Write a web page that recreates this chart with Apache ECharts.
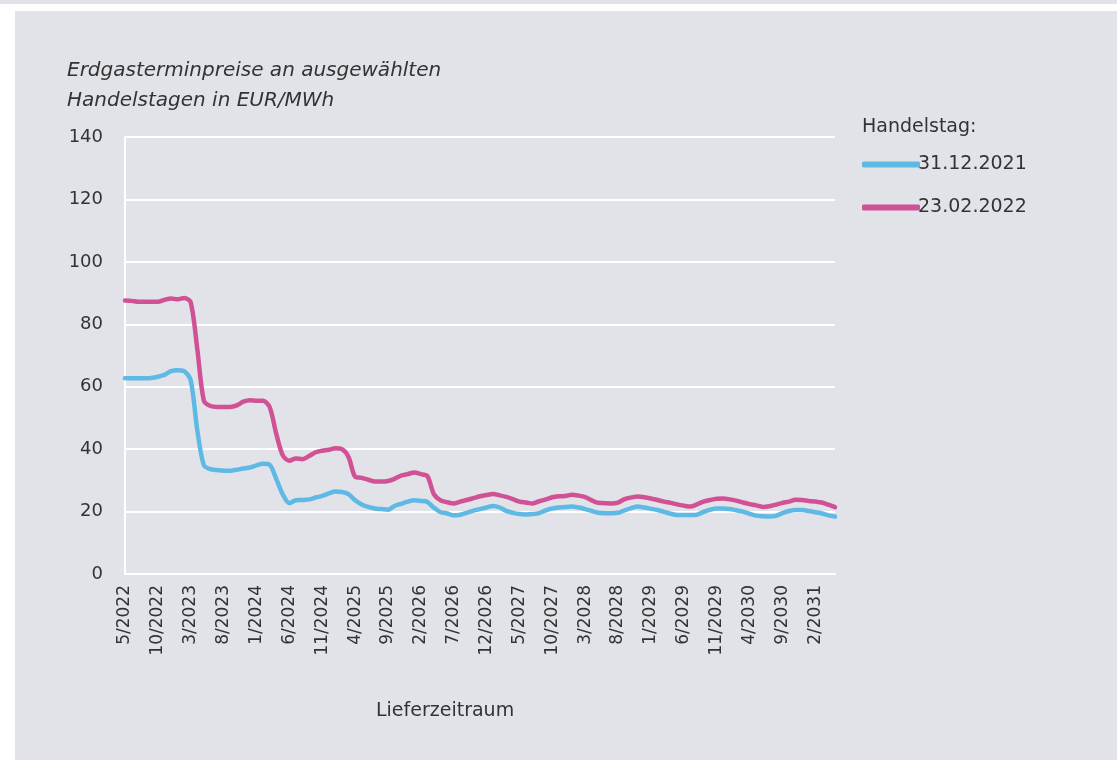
<!DOCTYPE html>
<html>
<head>
<meta charset="utf-8">
<script src="https://cdn.jsdelivr.net/npm/echarts@6/dist/echarts.min.js"></script>
<style>
  html, body { margin: 0; padding: 0; background: #ffffff; }
  #chart { width: 1117px; height: 760px; }
</style>
</head>
<body>
<div id="chart"></div>
<script>
// Liefermonate ab 5/2022, monatlich
const startYear = 2022
const startMonth = 5
const monthCount = 109

// Handelstag 31.12.2021
const price31122021 = [
  62.7, 62.7, 62.7, 62.7, 62.8, 63.2, 63.8, 65.0, 65.3, 65.0,
  62.0, 46.0, 34.8, 33.6, 33.3, 33.1, 33.1, 33.4, 33.8, 34.1,
  34.8, 35.3, 35.0, 30.5, 25.5, 22.7, 23.6, 23.7, 23.9, 24.5,
  25.0, 25.8, 26.4, 26.3, 25.6, 23.6, 22.3, 21.5, 21.0, 20.8,
  20.6, 21.8, 22.5, 23.2, 23.6, 23.4, 23.1, 21.2, 19.8, 19.4,
  18.8, 19.0, 19.6, 20.3, 20.8, 21.3, 21.8, 21.3, 20.2, 19.6,
  19.2, 19.1, 19.2, 19.5, 20.4, 21.0, 21.3, 21.5, 21.6, 21.3,
  20.8, 20.2, 19.6, 19.5, 19.5, 19.6, 20.4, 21.1, 21.6, 21.3,
  20.9, 20.5, 19.9, 19.3, 18.9, 18.9, 18.9, 19.0, 19.9, 20.6,
  21.0, 21.0, 20.8, 20.4, 20.0, 19.3, 18.7, 18.5, 18.4, 18.6,
  19.5, 20.2, 20.5, 20.5, 20.2, 19.8, 19.4, 18.8, 18.4
]

// Handelstag 23.02.2022
const price23022022 = [
  87.6, 87.5, 87.2, 87.2, 87.2, 87.2, 87.8, 88.3, 88.0, 88.4,
  87.0, 72.0, 55.5, 53.8, 53.5, 53.5, 53.5, 54.0, 55.2, 55.7,
  55.5, 55.5, 53.5, 45.0, 38.0, 36.3, 37.0, 36.8, 37.8, 39.0,
  39.5, 39.8, 40.3, 40.0, 37.5, 31.2, 30.8, 30.2, 29.6, 29.6,
  29.8, 30.5, 31.5, 32.0, 32.5, 32.0, 31.3, 25.5, 23.6, 23.0,
  22.6, 23.2, 23.7, 24.3, 24.9, 25.3, 25.6, 25.2, 24.7, 24.0,
  23.2, 22.9, 22.6, 23.3, 23.9, 24.6, 24.9, 25.0, 25.4, 25.1,
  24.6, 23.6, 22.8, 22.7, 22.6, 22.9, 24.0, 24.5, 24.8, 24.6,
  24.2, 23.7, 23.2, 22.8, 22.3, 21.9, 21.6, 22.3, 23.2, 23.7,
  24.1, 24.2, 23.9, 23.5, 22.9, 22.4, 22.0, 21.5, 21.7, 22.2,
  22.8, 23.2, 23.8, 23.7, 23.4, 23.2, 22.9, 22.2, 21.4
]

const seriesNames = ['31.12.2021', '23.02.2022']

// Kategorien m/yyyy
const months = []
for (let i = 0; i < monthCount; i++) {
  const m = (startMonth - 1 + i) % 12 + 1
  const y = startYear + Math.floor((startMonth - 1 + i) / 12)
  months.push(m + '/' + y)
}

const panelColor = '#e2e3e8'
const textColor = '#333333'
const fontFamily = '"DejaVu Sans", "Noto Sans", sans-serif'

const chart = echarts.init(document.getElementById('chart'))

const option = {
  animation: false,
  backgroundColor: '#ffffff',
  textStyle: { fontFamily: fontFamily },
  graphic: [
    { type: 'rect', z: -10, shape: { x: 0, y: 0, width: 1117, height: 4 }, style: { fill: panelColor } },
    { type: 'rect', z: -10, shape: { x: 15, y: 11, width: 1102, height: 749 }, style: { fill: panelColor } },
    {
      type: 'text', left: 862, top: 118,
      style: { text: 'Handelstag:', fontSize: 19, fill: textColor, fontFamily: fontFamily }
    },
    {
      type: 'text', left: 376, top: 702,
      style: { text: 'Lieferzeitraum', fontSize: 19, fill: textColor, fontFamily: fontFamily }
    }
  ],
  title: {
    text: 'Erdgasterminpreise an ausgewählten\nHandelstagen in EUR/MWh',
    left: 62,
    top: 51,
    textStyle: {
      fontSize: 20,
      fontStyle: 'italic',
      fontWeight: 'normal',
      color: textColor,
      lineHeight: 30,
      fontFamily: fontFamily
    }
  },
  legend: {
    orient: 'vertical',
    left: 857,
    top: 150,
    itemWidth: 58,
    itemHeight: 6,
    itemGap: 24,
    icon: 'roundRect',
    textStyle: { fontSize: 19, color: textColor, padding: [0, 0, 0, -7] },
    data: seriesNames
  },
  grid: {
    left: 125,
    right: 282,
    top: 137,
    bottom: 186
  },
  xAxis: {
    type: 'category',
    boundaryGap: false,
    data: months,
    axisLine: { show: true, lineStyle: { color: '#ffffff', width: 2 } },
    axisTick: { show: false },
    axisLabel: {
      interval: 4,
      rotate: 90,
      fontSize: 17,
      color: textColor,
      margin: 11
    },
    splitLine: { show: false }
  },
  yAxis: {
    type: 'value',
    min: 0,
    max: 140,
    interval: 20,
    axisLine: { show: true, lineStyle: { color: '#ffffff', width: 2 } },
    axisTick: { show: false },
    axisLabel: { fontSize: 18, color: textColor, margin: 22 },
    splitLine: { lineStyle: { color: '#ffffff', width: 2 } }
  },
  series: [
    {
      name: seriesNames[0],
      type: 'line',
      data: price31122021,
      smooth: 0.3,
      showSymbol: false,
      lineStyle: { color: '#5fb9e5', width: 4.5, cap: 'round', join: 'round' },
      itemStyle: { color: '#5fb9e5' }
    },
    {
      name: seriesNames[1],
      type: 'line',
      data: price23022022,
      smooth: 0.3,
      showSymbol: false,
      lineStyle: { color: '#d15195', width: 4.5, cap: 'round', join: 'round' },
      itemStyle: { color: '#d15195' }
    }
  ]
}

chart.setOption(option)
</script>
</body>
</html>
